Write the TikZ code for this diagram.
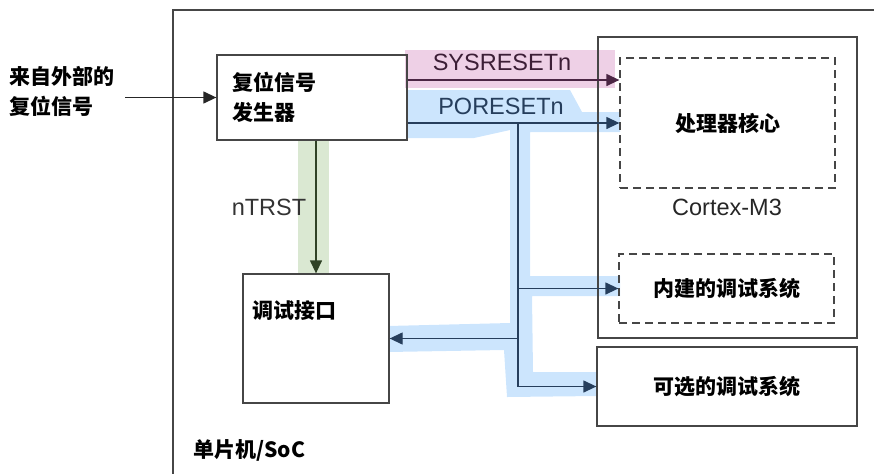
\documentclass[tikz,border=0pt]{standalone}
\usepackage{fontspec}
\setmainfont{Liberation Sans}
\newfontfamily\cjk{Noto Sans CJK SC}
\usetikzlibrary{positioning, arrows.meta, calc}
\definecolor{pinkhl}{RGB}{238,208,230}
\definecolor{bluehl}{RGB}{204,229,253}
\definecolor{greenhl}{RGB}{218,232,210}
\definecolor{syscol}{RGB}{75,38,68}
\definecolor{porcol}{RGB}{38,62,92}
\definecolor{trstcol}{RGB}{48,66,38}
\definecolor{boxcol}{RGB}{70,70,70}
\tikzset{
  blk/.style={rectangle, draw=boxcol, line width=1.3pt, inner sep=0pt},
  dashblk/.style={blk, dashed, dash pattern=on 8pt off 5pt},
  cnlbl/.style={font=\cjk\bfseries\fontsize{21}{30}\selectfont, text=black,
                inner sep=0pt, align=left},
  siglbl/.style={font=\fontsize{23.5}{26}\selectfont, inner sep=0pt},
  arr/.style={-{Triangle[length=13pt, width=12pt]}, line width=1.3pt},
  sysarr/.style={arr, syscol},
  porarr/.style={arr, porcol},
  trstarr/.style={arr, trstcol},
}

\begin{document}
\begin{tikzpicture}[x=1pt, y=-1pt]
    \useasboundingbox (0,0) rectangle (874,474);

    % highlighter strokes
    \fill[pinkhl] (405,50) rectangle (615,88);
    \fill[greenhl] (298,140) rectangle (329,274);
    \fill[bluehl] (407,90) -- (570,90) -- (582,112) -- (620,112) -- (620,132)
        -- (530,132) -- (530,276) -- (620,276) -- (620,296) -- (532,296)
        -- (533,372) -- (597,372) -- (597,396) -- (507,397) -- (504,350)
        -- (388,352) -- (388,326) -- (510,323) -- (510,130) -- (474,138)
        -- (407,138) -- cycle;

    % SoC frame
    \draw[boxcol, line width=1.3pt] (874,10) -- (173,10) -- (173,474);
    \node[cnlbl, anchor=west] (soc) at (193,450) {单片机/SoC};

    % blocks
    \node[cnlbl, anchor=west] (ext) at (9,91) {来自外部的\\复位信号};
    \node[blk, minimum width=190pt, minimum height=85pt, text width=160pt,
          align=left, font=\cjk\bfseries\fontsize{21}{30}\selectfont]
          (rstgen) at (312,97.5) {复位信号\\发生器};
    \node[blk, minimum width=146pt, minimum height=129pt] (dbgif) at (316,338.5) {};
    \node[cnlbl, anchor=west] at ([xshift=10pt, yshift=-37pt]dbgif.north west) {调试接口};
    \node[blk, minimum width=259pt, minimum height=301pt] (m3) at (727.5,187.5) {};
    \node[dashblk, minimum width=215pt, minimum height=130pt, cnlbl] (core) at (727.5,123) {处理器核心};
    \node[siglbl, text=black!85] (m3lbl) at (727,207) {Cortex-M3};
    \node[dashblk, minimum width=215pt, minimum height=69pt, cnlbl] (dbgsys) at (726.5,288.5) {内建的调试系统};
    \node[blk, minimum width=260pt, minimum height=79pt, cnlbl] (optdbg) at (727,386.5) {可选的调试系统};

    % external reset
    \coordinate (extin) at (125,97.5);
    \draw[arr, black!85] (extin) -- (rstgen.west);

    % SYSRESETn
    \coordinate (sysout) at ([yshift=17.5pt]rstgen.east);
    \draw[sysarr] (sysout) -- (sysout -| core.west);
    \node[siglbl, text=syscol!80!black] at (502,62) {SYSRESETn};

    % PORESETn
    \coordinate (porout) at ([yshift=-25.5pt]rstgen.east);
    \coordinate (trunk) at (518,123);
    \draw[porarr] (porout) -- (porout -| core.west);
    \draw[porarr] (trunk) -- (trunk |- optdbg.west) -- (optdbg.west);
    \draw[porarr] (trunk |- dbgsys.west) -- (dbgsys.west);
    \draw[porarr] (trunk |- dbgif.east) -- (dbgif.east);
    \node[siglbl, text=porcol] at (501,106) {PORESETn};

    % nTRST
    \draw[trstarr] (dbgif.north |- rstgen.south) -- (dbgif.north);
    \node[siglbl, text=black!80] at (269,207) {nTRST};
\end{tikzpicture}
\end{document}
